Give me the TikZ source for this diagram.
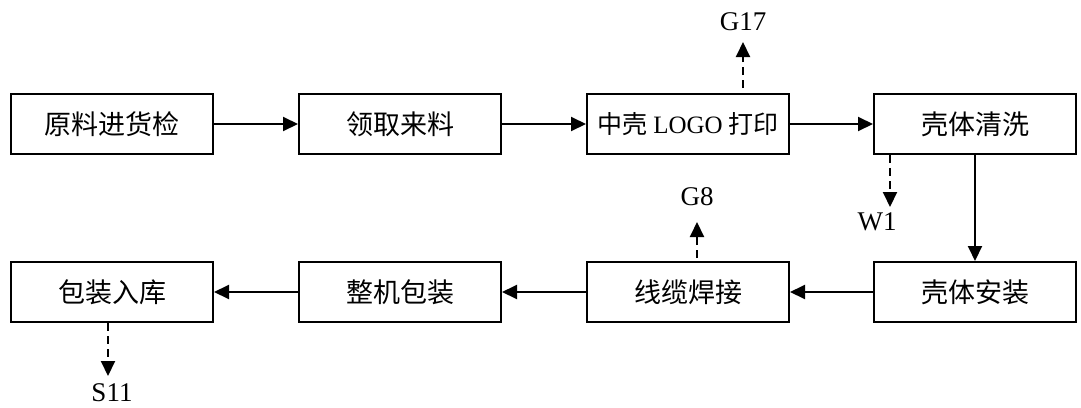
\documentclass[tikz,border=0pt]{standalone}
\usepackage{fontspec}
\setmainfont{Liberation Serif}
\newfontfamily\cjk{Noto Sans CJK SC}
\usetikzlibrary{arrows.meta}
\begin{document}
\begin{tikzpicture}[x=1pt,y=-1pt,
  every node/.style={font=\fontsize{27}{31}\selectfont},
  procbox/.style={draw, line width=2pt, minimum width=202pt, minimum height=60pt, inner sep=0pt},
  flow/.style={line width=2pt, -{Triangle[length=15pt,width=14pt]}},
  emit/.style={line width=2pt, dash pattern=on 8pt off 5pt, -{Triangle[length=15pt,width=14pt]}},
  lbl/.style={inner sep=0pt}]
\useasboundingbox (0,0) rectangle (1081,407);
% row 1
\node[procbox] (b1) at (112,124) {\cjk 原料进货检};
\node[procbox] (b2) at (400,124) {\cjk 领取来料};
\node[procbox, font=\fontsize{25}{30}\selectfont] (b3) at (688,124) {{\cjk 中壳} LOGO {\cjk 打印}};
\node[procbox] (b4) at (975,124) {\cjk 壳体清洗};
% row 2
\node[procbox] (c4) at (975,292) {\cjk 壳体安装};
\node[procbox] (c3) at (688,292) {\cjk 线缆焊接};
\node[procbox] (c2) at (400,292) {\cjk 整机包装};
\node[procbox] (c1) at (112,292) {\cjk 包装入库};
% labels
\node[lbl] (g17) at (743,22) {G17};
\node[lbl] (w1) at (877,222) {W1};
\node[lbl] (g8) at (697,197) {G8};
\node[lbl] (s11) at (112,393) {S11};
\coordinate (g17t) at (743,42);
\coordinate (w1t) at (890,207);
\coordinate (g8t) at (697,222);
\coordinate (s11t) at (108,376);
% main flow
\draw[flow] (b1) -- (b2);
\draw[flow] (b2) -- (b3);
\draw[flow] (b3) -- (b4);
\draw[flow] (b4) -- (c4);
\draw[flow] (c4) -- (c3);
\draw[flow] (c3) -- (c2);
\draw[flow] (c2) -- (c1);
% emissions
\draw[emit, dash phase=8pt] (b3.north -| g17t) -- (g17t);
\draw[emit] (b4.south -| w1t) -- (w1t);
\draw[emit, dash phase=10pt] (c3.north -| g8t) -- (g8t);
\draw[emit] (c1.south -| s11t) -- (s11t);
\end{tikzpicture}
\end{document}
